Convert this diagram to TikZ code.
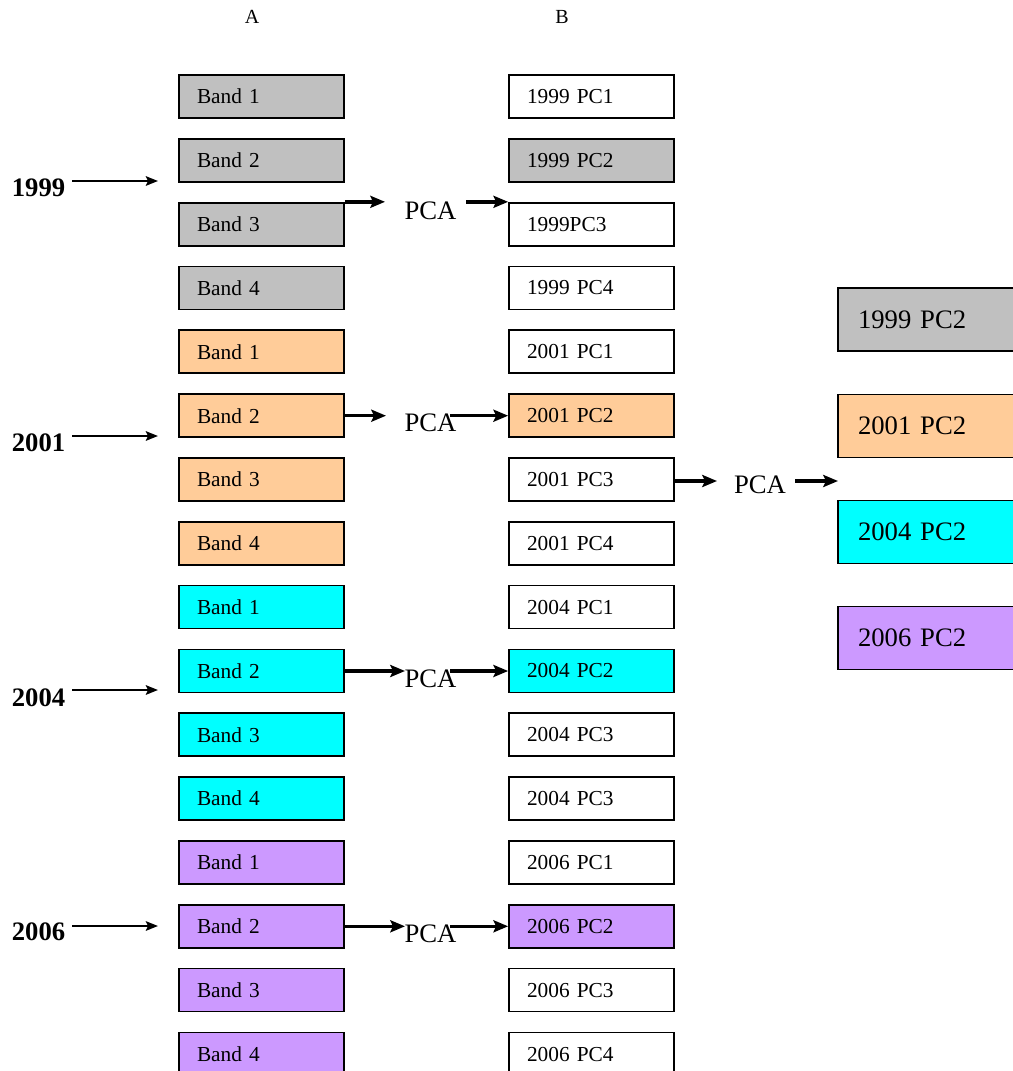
\documentclass[tikz,border=0pt]{standalone}
\usepackage{fontspec}
\setmainfont{Liberation Serif}
\usetikzlibrary{arrows.meta}

\definecolor{bandgray}{HTML}{C0C0C0}
\definecolor{bandorange}{HTML}{FFCC99}
\definecolor{bandcyan}{HTML}{00FFFF}
\definecolor{bandpurple}{HTML}{CC99FF}

\begin{document}
\begin{tikzpicture}[x=0.75pt,y=-0.75pt,
    box/.style={draw,line width=1.3pt,minimum width=123.75pt,minimum height=32.25pt,
      text width=96.75pt,inner xsep=13.5pt,inner ysep=0pt,align=left,
      font=\fontsize{16}{18}\selectfont},
    bigbox/.style={draw,line width=1.3pt,minimum width=150pt,minimum height=47.25pt,
      text width=120pt,inner xsep=15pt,inner ysep=0pt,align=left,
      font=\fontsize{20}{24}\selectfont},
    year/.style={font=\bfseries\fontsize{20}{24}\selectfont,inner xsep=5pt},
    pca/.style={font=\fontsize{20}{24}\selectfont,inner sep=0pt},
    yarr/.style={line width=2pt,-{Stealth[length=9pt,width=7pt,inset=1.5pt]}},
    parr/.style={line width=2.6pt,-{Stealth[length=11pt,width=9pt,inset=2pt]}}]
  \useasboundingbox (0,0) rectangle (1013,1071);
  \clip (0,0) rectangle (1013,1071);

  \node (ha) at (252,17) [font=\fontsize{15}{17}\selectfont] {A};
  \node (hb) at (562,17) [font=\fontsize{15}{17}\selectfont] {B};

  % column A
  \node (a1) at (261.5,96.5) [box,fill=bandgray] {Band 1};
  \node (a2) at (261.5,160.3) [box,fill=bandgray] {Band 2};
  \node (a3) at (261.5,224.2) [box,fill=bandgray] {Band 3};
  \node (a4) at (261.5,288.0) [box,fill=bandgray] {Band 4};
  \node (a5) at (261.5,351.8) [box,fill=bandorange] {Band 1};
  \node (a6) at (261.5,415.7) [box,fill=bandorange] {Band 2};
  \node (a7) at (261.5,479.5) [box,fill=bandorange] {Band 3};
  \node (a8) at (261.5,543.3) [box,fill=bandorange] {Band 4};
  \node (a9) at (261.5,607.1) [box,fill=bandcyan] {Band 1};
  \node (a10) at (261.5,671.0) [box,fill=bandcyan] {Band 2};
  \node (a11) at (261.5,734.8) [box,fill=bandcyan] {Band 3};
  \node (a12) at (261.5,798.6) [box,fill=bandcyan] {Band 4};
  \node (a13) at (261.5,862.5) [box,fill=bandpurple] {Band 1};
  \node (a14) at (261.5,926.3) [box,fill=bandpurple] {Band 2};
  \node (a15) at (261.5,990.1) [box,fill=bandpurple] {Band 3};
  \node (a16) at (261.5,1054.0) [box,fill=bandpurple] {Band 4};

  % column B
  \node (b1) at (591.5,96.5) [box] {1999 PC1};
  \node (b2) at (591.5,160.3) [box,fill=bandgray] {1999 PC2};
  \node (b3) at (591.5,224.2) [box] {1999PC3};
  \node (b4) at (591.5,288.0) [box] {1999 PC4};
  \node (b5) at (591.5,351.8) [box] {2001 PC1};
  \node (b6) at (591.5,415.7) [box,fill=bandorange] {2001 PC2};
  \node (b7) at (591.5,479.5) [box] {2001 PC3};
  \node (b8) at (591.5,543.3) [box] {2001 PC4};
  \node (b9) at (591.5,607.1) [box] {2004 PC1};
  \node (b10) at (591.5,671.0) [box,fill=bandcyan] {2004 PC2};
  \node (b11) at (591.5,734.8) [box] {2004 PC3};
  \node (b12) at (591.5,798.6) [box] {2004 PC3};
  \node (b13) at (591.5,862.5) [box] {2006 PC1};
  \node (b14) at (591.5,926.3) [box,fill=bandpurple] {2006 PC2};
  \node (b15) at (591.5,990.1) [box] {2006 PC3};
  \node (b16) at (591.5,1054.0) [box] {2006 PC4};

  % second PCA result
  \node (c1) at (938,319.5) [bigbox,fill=bandgray] {1999 PC2};
  \node (c2) at (938,426) [bigbox,fill=bandorange] {2001 PC2};
  \node (c3) at (938,532) [bigbox,fill=bandcyan] {2004 PC2};
  \node (c4) at (938,638) [bigbox,fill=bandpurple] {2006 PC2};

  % years
  \node (y1) at (38.5,188) [year] {1999};
  \node (y2) at (38.5,443) [year] {2001};
  \node (y3) at (38.5,698) [year] {2004};
  \node (y4) at (38.5,932) [year] {2006};
  \coordinate (t1) at (158,181);
  \coordinate (t2) at (158,436);
  \coordinate (t3) at (158,690);
  \coordinate (t4) at (158,926);
  \draw[yarr] (y1.east |- t1) -- (t1);
  \draw[yarr] (y2.east |- t2) -- (t2);
  \draw[yarr] (y3.east |- t3) -- (t3);
  \draw[yarr] (y4.east |- t4) -- (t4);

  % PCA steps
  \node (p1) at (430.5,211) [pca] {PCA};
  \node (p2) at (430.5,423) [pca] {PCA};
  \node (p3) at (430.5,679) [pca] {PCA};
  \node (p4) at (430.5,934) [pca] {PCA};
  \node (p5) at (760,485) [pca] {PCA};
  \coordinate (q1) at (385,203);
  \coordinate (r1) at (466,203);
  \coordinate (q2) at (386,415.7);
  \coordinate (r2) at (450,415.7);
  \coordinate (q3) at (405,671);
  \coordinate (r3) at (450,671);
  \coordinate (q4) at (405,926.3);
  \coordinate (r4) at (450,926.3);
  \coordinate (q5) at (717,481);
  \coordinate (r5) at (795,481);
  \coordinate (s5) at (838,481);
  \draw[parr] (a3.north east) -- (a3.north east -| q1);
  \draw[parr] (r1 |- b3.north west) -- (b3.north west);
  \draw[parr] (a6.east) -- (q2);
  \draw[parr] (r2) -- (b6.west);
  \draw[parr] (a10.east) -- (q3);
  \draw[parr] (r3) -- (b10.west);
  \draw[parr] (a14.east) -- (q4);
  \draw[parr] (r4) -- (b14.west);
  \draw[parr] (b7.east |- q5) -- (q5);
  \draw[parr] (r5) -- (s5);
\end{tikzpicture}
\end{document}
